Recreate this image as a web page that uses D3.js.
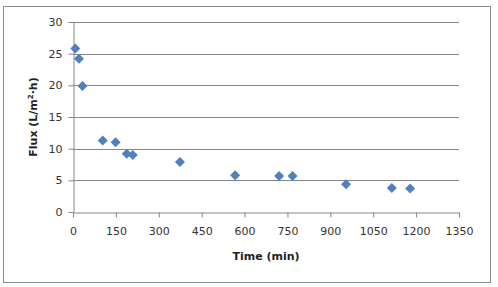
<!DOCTYPE html>
<html><head><meta charset="utf-8">
<script src="https://cdn.jsdelivr.net/npm/d3@7"></script>
<style>body{margin:0;background:#fff}svg{display:block}</style>
</head><body>
<script>
const times = [8, 21, 33, 104, 149, 188, 209, 374, 567, 721, 768, 955, 1115, 1179];
const flux = [25.8, 24.2, 19.9, 11.3, 11.0, 9.2, 9.0, 7.9, 5.8, 5.7, 5.7, 4.4, 3.8, 3.7];
const xTicks = [0,150,300,450,600,750,900,1050,1200,1350];
const yTicks = [0,5,10,15,20,25,30];

const W=498,H=287;
const svg=d3.select("body").append("svg").attr("width",W).attr("height",H);
svg.append("rect").attr("x",3.5).attr("y",6.5).attr("width",487).attr("height",276)
  .attr("fill","#fff").attr("stroke","#8c8c8c").attr("stroke-width",1);

const x=d3.scaleLinear().domain([0,1350]).range([73,459]);
const y=d3.scaleLinear().domain([0,30]).range([212,22]);
const font="DejaVu Sans, Verdana, sans-serif";

// gridlines
svg.append("g").selectAll("line").data(yTicks.filter(d=>d>0)).join("line")
  .attr("x1",73).attr("x2",459).attr("y1",d=>Math.round(y(d))+0.5).attr("y2",d=>Math.round(y(d))+0.5)
  .attr("stroke","#868686").attr("stroke-width",1);

// axes
const xa=svg.append("g").attr("transform","translate(0,212.5)")
  .call(d3.axisBottom(x).tickValues(xTicks).tickFormat(d3.format("d")).tickSize(5).tickSizeOuter(0).tickPadding(10));
const ya=svg.append("g").attr("transform","translate(73.5,0)")
  .call(d3.axisLeft(y).tickValues(yTicks).tickFormat(d3.format("d")).tickSize(5).tickSizeOuter(0).tickPadding(6));
[xa,ya].forEach(a=>{
  a.select(".domain").attr("stroke","#868686");
  a.selectAll(".tick line").attr("stroke","#868686");
  a.selectAll("text").attr("font-family",font).attr("font-size",11).attr("fill","#333");
});

// points
const diamond="M0,-5L5,0L0,5L-5,0Z";
svg.append("g").selectAll("path").data(times.map((t,i)=>[t,flux[i]])).join("path")
  .attr("d",diamond).attr("transform",d=>`translate(${x(d[0])},${y(d[1])})`)
  .attr("fill","#4F81BD");

// titles
svg.append("text").attr("x",266).attr("y",260).attr("text-anchor","middle")
  .attr("font-family",font).attr("font-size",11).attr("font-weight","bold").attr("fill","#222")
  .text("Time (min)");
const yt=svg.append("text").attr("transform","translate(37,117) rotate(-90)").attr("text-anchor","middle")
  .attr("font-family",font).attr("font-size",11).attr("font-weight","bold").attr("fill","#222");
yt.append("tspan").text("Flux (L/m");
yt.append("tspan").attr("font-size",7).attr("dy",-4).text("2");
yt.append("tspan").attr("dy",4).text("·h)");
</script>
</body></html>
